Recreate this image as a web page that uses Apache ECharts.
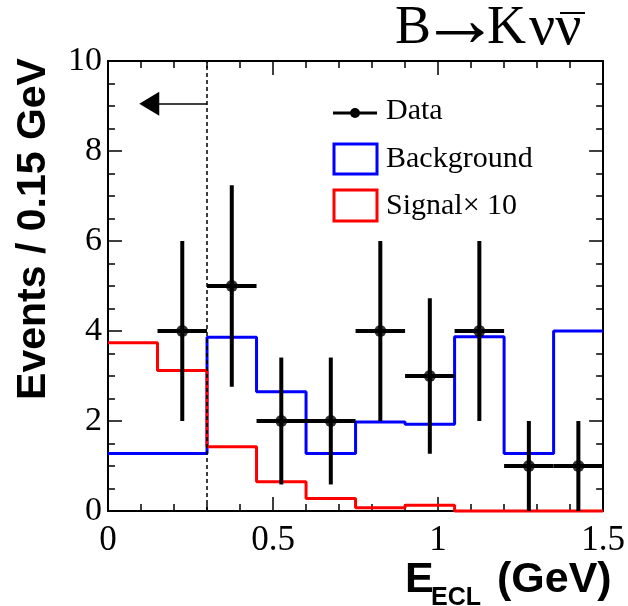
<!DOCTYPE html>
<html lang="en">
<head>
    <meta charset="UTF-8">
    <title>B to K nu nubar</title>
    <style>
        body { margin: 0; background: #fff; }
    </style>
</head>
<script src="https://cdn.jsdelivr.net/npm/echarts@6.0.0/dist/echarts.min.js"></script>

<body>
<div id="main" style="width:628px;height:606px"></div>
<script>
    // bin edges of the E_ECL histogram (GeV)
    var binEdges = [0, 0.15, 0.3, 0.45, 0.6, 0.75, 0.9, 1.05, 1.2, 1.35, 1.5];
    // MC background and signal (x10) per bin
    var background = [1.28, 1.28, 3.86, 2.65, 1.28, 1.98, 1.93, 3.87, 1.28, 4.0];
    var signal10 = [3.74, 3.12, 1.43, 0.65, 0.28, 0.07, 0.13, 0, 0, 0];
    // data points: bin centre, events, error
    var dataX = [0.225, 0.375, 0.525, 0.675, 0.825, 0.975, 1.125, 1.275, 1.425];
    var dataY = [4, 5, 2, 2, 4, 3, 4, 1, 1];
    var dataErr = [2.0, 2.24, 1.41, 1.41, 2.0, 1.73, 2.0, 1.0, 1.0];
    var halfBin = 0.075;
    // signal region cut and arrow
    var cutValue = 0.3;
    var arrowY = 9.05;
    var arrowEnd = 0.125;

    var serif = "'Liberation Serif', 'Times New Roman', serif";
    var sans = "'Liberation Sans', Arial, sans-serif";

    function histPoints(values) {
        var pts = [];
        for (var i = 0; i < values.length; i++) {
            pts.push([binEdges[i], values[i]]);
        }
        pts.push([binEdges[values.length], values[values.length - 1]]);
        return pts;
    }

    var points = dataX.map(function (x, i) { return [x, dataY[i], dataErr[i]]; });

    function xAxisOpt(top) {
        return {
            type: 'value', min: 0, max: 1.5, interval: 0.5,
            position: top ? 'top' : 'bottom',
            axisLine: { show: true, onZero: false, lineStyle: { color: '#000', width: 2 } },
            axisTick: { show: true, inside: true, length: 14, lineStyle: { color: '#000', width: 1.5 } },
            minorTick: { show: true, splitNumber: 5, length: 7, lineStyle: { color: '#000', width: 1.5 } },
            axisLabel: { show: !top, margin: 12, color: '#000', fontSize: 35, fontFamily: serif },
            splitLine: { show: false }
        };
    }
    function yAxisOpt(right) {
        return {
            type: 'value', min: 0, max: 10, interval: 2,
            position: right ? 'right' : 'left',
            axisLine: { show: true, onZero: false, lineStyle: { color: '#000', width: 2 } },
            axisTick: { show: true, inside: true, length: 14, lineStyle: { color: '#000', width: 1.5 } },
            minorTick: { show: true, splitNumber: 4, length: 7, lineStyle: { color: '#000', width: 1.5 } },
            axisLabel: { show: !right, margin: 6, color: '#000', fontSize: 34, fontFamily: serif },
            splitLine: { show: false }
        };
    }

    var myChart = echarts.init(document.getElementById('main'));
    myChart.setOption({
        animation: false,
        backgroundColor: '#fff',
        grid: { left: 108, right: 23, top: 61, bottom: 95 },
        xAxis: [xAxisOpt(false), xAxisOpt(true)],
        yAxis: [yAxisOpt(false), yAxisOpt(true)],
        series: [
            {
                name: 'Background',
                type: 'line',
                step: 'end',
                data: histPoints(background),
                symbol: 'none',
                clip: false,
                lineStyle: { color: '#0000ff', width: 3 },
                z: 2,
                markLine: {
                    silent: true,
                    label: { show: false },
                    symbol: 'none',
                    data: [
                        [
                            { coord: [cutValue, 0], lineStyle: { type: [4, 3] } },
                            { coord: [cutValue, 10] }
                        ],
                        [
                            { coord: [cutValue, arrowY], symbol: 'none', lineStyle: { type: 'solid' } },
                            { coord: [arrowEnd, arrowY], symbol: 'triangle', symbolSize: [24, 20] }
                        ]
                    ],
                    lineStyle: { color: '#000', width: 1.5 }
                }
            },
            {
                name: 'Signal×10',
                type: 'line',
                step: 'end',
                data: histPoints(signal10),
                symbol: 'none',
                clip: false,
                lineStyle: { color: '#ff0000', width: 3 },
                z: 3
            },
            {
                // error bars
                name: 'Data',
                type: 'custom',
                data: points,
                z: 4,
                renderItem: function (params, api) {
                    var x = api.value(0), y = api.value(1), e = api.value(2);
                    var lo = api.coord([x, y - e]);
                    var hi = api.coord([x, y + e]);
                    var l = api.coord([x - halfBin, y]);
                    var r = api.coord([x + halfBin, y]);
                    return {
                        type: 'group',
                        children: [
                            { type: 'line', shape: { x1: lo[0], y1: lo[1], x2: hi[0], y2: hi[1] },
                              style: { stroke: '#000', lineWidth: 4 } },
                            { type: 'line', shape: { x1: l[0], y1: l[1], x2: r[0], y2: r[1] },
                              style: { stroke: '#000', lineWidth: 4 } }
                        ]
                    };
                }
            },
            {
                name: 'Data',
                type: 'scatter',
                data: points,
                symbol: 'circle',
                symbolSize: 12,
                itemStyle: { color: '#000' },
                z: 5
            }
        ],
        graphic: [
            // title B -> K nu nubar
            { type: 'text', x: 395, y: 29,
              style: { text: 'B', fontSize: 54, fontFamily: serif, fill: '#000', verticalAlign: 'middle' } },
            { type: 'text', x: 460, y: 25,
              style: { text: '→', fontSize: 80, fontFamily: serif, fill: '#000', align: 'center', verticalAlign: 'middle' } },
            { type: 'text', x: 487, y: 29,
              style: { text: 'K', fontSize: 54, fontFamily: serif, fill: '#000', verticalAlign: 'middle' } },
            { type: 'text', x: 529, y: 29,
              style: { text: 'νν', fontSize: 58, fontFamily: serif, fill: '#000', verticalAlign: 'middle' } },
            { type: 'line', shape: { x1: 560, y1: 13, x2: 585, y2: 13 },
              style: { stroke: '#000', lineWidth: 2 } },
            // axis titles
            { type: 'text', x: 34, y: 229, rotation: Math.PI / 2,
              style: { text: 'Events / 0.15 GeV', fontSize: 41, fontWeight: 'bold', fontFamily: sans,
                       fill: '#000', align: 'center', verticalAlign: 'middle' } },
            { type: 'text', x: 405, y: 580,
              style: { text: 'E', fontSize: 43, fontWeight: 'bold', fontFamily: sans,
                       fill: '#000', align: 'left', verticalAlign: 'middle' } },
            { type: 'text', x: 431, y: 598,
              style: { text: 'ECL', fontSize: 25, fontWeight: 'bold', fontFamily: sans,
                       fill: '#000', align: 'left', verticalAlign: 'middle' } },
            { type: 'text', x: 497, y: 580,
              style: { text: '(GeV)', fontSize: 43, fontWeight: 'bold', fontFamily: sans,
                       fill: '#000', align: 'left', verticalAlign: 'middle' } },
            // legend
            { type: 'line', shape: { x1: 333, y1: 113, x2: 377, y2: 113 },
              style: { stroke: '#000', lineWidth: 3 } },
            { type: 'circle', shape: { cx: 355, cy: 113, r: 5 }, style: { fill: '#000' } },
            { type: 'text', x: 386, y: 111,
              style: { text: 'Data', fontSize: 30, fontFamily: serif, fill: '#000', verticalAlign: 'middle' } },
            { type: 'rect', shape: { x: 334, y: 144, width: 43, height: 30 },
              style: { fill: 'none', stroke: '#0000ff', lineWidth: 3 } },
            { type: 'text', x: 386, y: 159,
              style: { text: 'Background', fontSize: 30, fontFamily: serif, fill: '#000', verticalAlign: 'middle' } },
            { type: 'rect', shape: { x: 334, y: 190, width: 43, height: 31 },
              style: { fill: 'none', stroke: '#ff0000', lineWidth: 3 } },
            { type: 'text', x: 386, y: 206,
              style: { text: 'Signal× 10', fontSize: 30, fontFamily: serif, fill: '#000', verticalAlign: 'middle' } }
        ]
    });
</script>

</body>
</html>
